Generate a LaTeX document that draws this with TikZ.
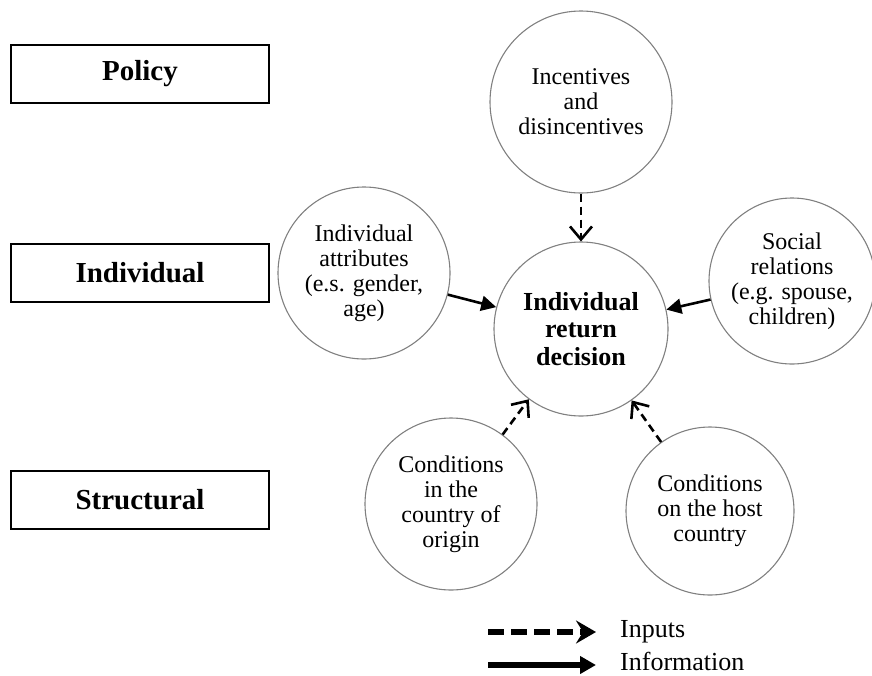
\documentclass[tikz,border=0pt]{standalone}
\usepackage{fontspec}
\setmainfont{Liberation Serif}
\usetikzlibrary{arrows.meta}
\begin{document}
\begin{tikzpicture}[x=1pt,y=-1pt,
  levelbox/.style={draw=black,line width=2pt,minimum width=258pt,minimum height=58pt,inner sep=0pt,
    font=\fontsize{29}{30}\selectfont\bfseries},
  factor/.style={circle,draw={rgb,255:red,128;green,128;blue,128},line width=1.1pt,inner sep=0pt,align=center,
    font=\fontsize{24}{25}\selectfont},
  core/.style={factor,font=\fontsize{26}{27.5}\selectfont\bfseries},
  inarrow/.style={draw=black,line width=2.6pt,dash pattern=on 8pt off 5pt,
    -{Straight Barb[length=13pt,width=22pt,line width=2.6pt]}},
  infoarrow/.style={draw=black,line width=2.6pt,-{Triangle[length=15pt,width=15pt]}},
  legin/.style={draw=black,line width=6.5pt,dash pattern=on 16pt off 7pt,
    -{Stealth[length=20pt,width=23pt,inset=7pt]}},
  leginfo/.style={draw=black,line width=6.5pt,-{Triangle[length=16pt,width=17pt]}},
  legtext/.style={anchor=west,inner sep=0pt,font=\fontsize{26}{27}\selectfont}
]
\useasboundingbox (0,0) rectangle (872,675);

% level boxes
\node[levelbox] (policy) at (140,74) {Policy};
\node[levelbox] (indiv) at (140,273) {Individual};
\node[levelbox] (struct) at (140,500) {Structural};

% circles
\node[core,minimum size=174pt] (center) at (581,329) {Individual\\return\\decision};
\node[factor,minimum size=182pt] (top) at (581,102) {Incentives\\and\\disincentives};
\node[factor,minimum size=172pt] (left) at (364,273) {Individual\\attributes\\(e.s. gender,\\age)};
\node[factor,minimum size=166pt] (right) at (792,281) {Social\\relations\\(e.g. spouse,\\children)};
\node[factor,minimum size=172pt] (bl) at (451,504) {Conditions\\in the\\country of\\origin};
\node[factor,minimum size=168pt] (br) at (710,511) {Conditions\\on the host\\country};

% connectors
\draw[inarrow] (top) -- (center);
\draw[inarrow] (bl) -- (center);
\draw[inarrow] (br) -- (center);
\draw[infoarrow] (left) -- (center);
\draw[infoarrow] (right) -- (center);

% legend
\node[legtext] (inputs) at (620,632) {Inputs};
\node[legtext] (information) at (620,661) {Information};
\coordinate (lin) at (488,632);
\coordinate (linfo) at (488,665);
\draw[legin] (lin) -- ([xshift=-24pt]inputs.west);
\draw[leginfo] (linfo) -- ([xshift=-24pt]information.west|-linfo);
\end{tikzpicture}
\end{document}
